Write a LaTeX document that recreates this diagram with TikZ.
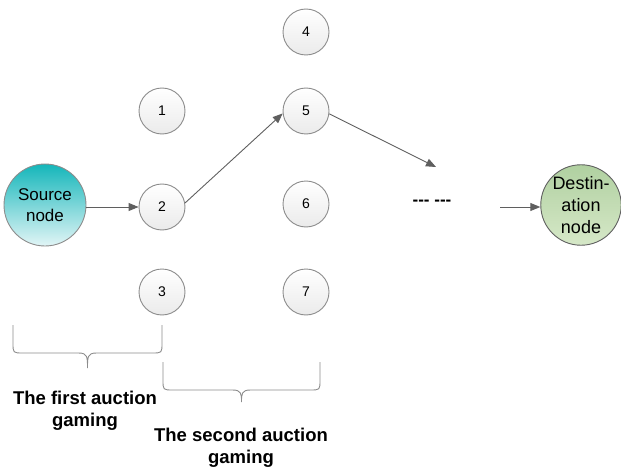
\documentclass[tikz,border=0pt]{standalone}
\usepackage{fontspec}
\setmainfont{Liberation Sans}
\usetikzlibrary{positioning,arrows.meta}

\definecolor{linegray}{RGB}{95,95,95}
\definecolor{rimgray}{RGB}{140,140,140}
\definecolor{srcteal}{RGB}{20,182,186}
\definecolor{srclight}{RGB}{226,245,246}
\definecolor{dsttop}{RGB}{176,208,160}
\definecolor{dstbottom}{RGB}{214,232,200}

\begin{document}
\begin{tikzpicture}[x=1pt,y=-1pt,
    peer/.style={circle,draw=rimgray,line width=0.9pt,minimum size=46pt,inner sep=0pt,
        top color=white,bottom color=black!8,font=\fontsize{14}{16}\selectfont},
    endnode/.style={circle,draw=rimgray,line width=0.9pt,inner sep=0pt,align=center,
        font=\fontsize{17}{21}\selectfont},
    hop/.style={draw=linegray,line width=0.9pt,-{Triangle[length=10pt,width=8pt]}},
    auction/.style={draw=rimgray,line width=0.9pt},
    stage/.style={align=center,font=\bfseries\fontsize{18.5}{22}\selectfont}]

\useasboundingbox (0,0) rectangle (621,468);

\node[endnode,minimum size=82pt,top color=srcteal,bottom color=srclight] (src) at (45,205) {Source\\node};
\node[endnode,minimum size=78pt,draw=linegray,top color=dsttop,bottom color=dstbottom,
    font=\fontsize{18}{22}\selectfont] (dst) at (581,205) {Destin-\\ation\\node};

% relay candidates, two rounds of bidding
\foreach \num/\x/\y in {1/162/111, 2/162/207, 3/162/292, 4/306/32, 5/306/111, 6/306/204, 7/306/292} {
    \node[peer] (n\num) at (\x,\y) {\num};
}

\node[font=\bfseries\fontsize{17}{18}\selectfont] (more) at (432,203) {{-}{-}{-} {-}{-}{-}};

\coordinate (next) at (436,167);
\coordinate (last) at (500,207);

\draw[hop] (src.east |- n2) -- (n2);
\draw[hop] (n2.10) -- (n5.186);
\draw[hop] (n5.-7) -- (next);
\draw[hop] (last) -- (last -| dst.west);

% braces under each auction round
\foreach \l/\r/\t/\b/\tip in {13/162/325/353/368, 163/320/362/390/402} {
    \pgfmathsetmacro\m{(\l+\r)/2}
    \draw[auction] (\l,\t) -- (\l,\b-10) .. controls (\l,\b) .. (\l+10,\b)
        -- (\m-9,\b) .. controls (\m,\b) and (\m,\b+4) .. (\m,\tip)
        .. controls (\m,\b+4) and (\m,\b) .. (\m+9,\b)
        -- (\r-10,\b) .. controls (\r,\b) .. (\r,\b-10) -- (\r,\t);
}

\node[stage] (first) at (85,411) {The first auction\\gaming};
\node[stage] (second) at (241,448) {The second auction\\gaming};

\end{tikzpicture}
\end{document}
